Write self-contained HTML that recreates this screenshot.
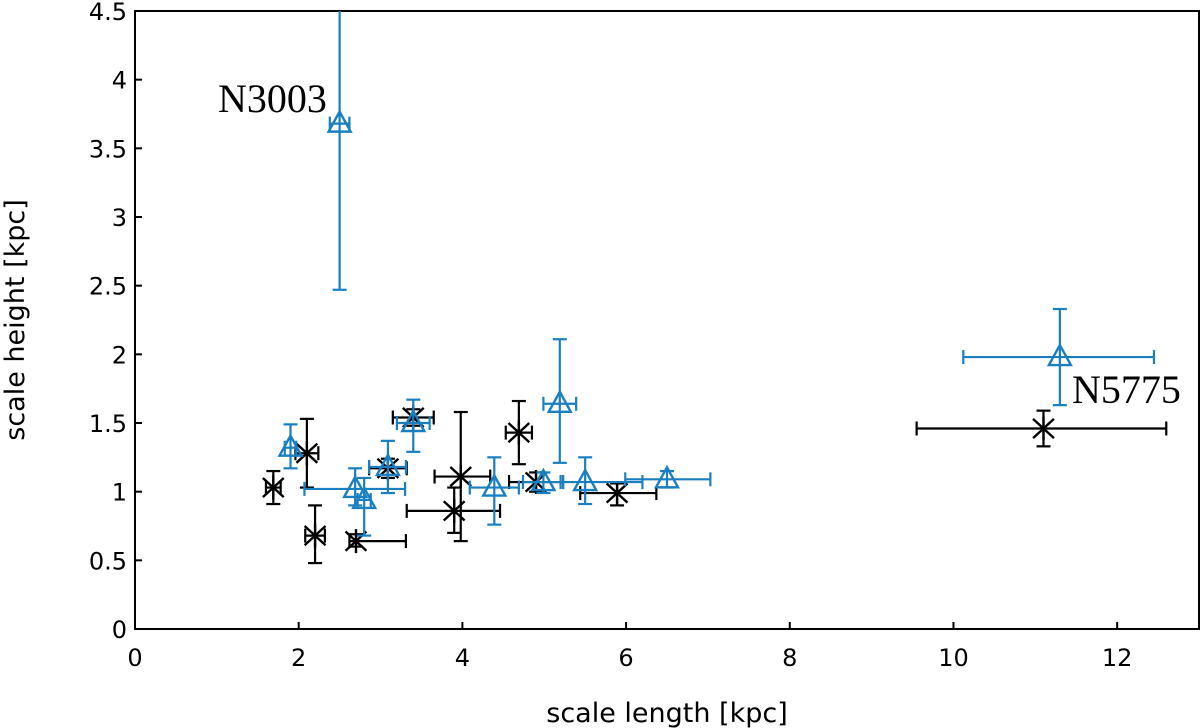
<!DOCTYPE html>
<html><head><meta charset="utf-8"><style>
html,body{margin:0;padding:0;background:#fff;}
svg{display:block;}
text{font-family:"DejaVu Sans","Liberation Sans",sans-serif;}
</style></head><body>
<svg id="chart" width="1200" height="728" viewBox="0 0 1200 728" xmlns="http://www.w3.org/2000/svg">
<g id="axes"></g>
<g id="marks"></g>
<text x="218" y="112" font-size="40" style="font-family:'Liberation Serif',serif">N3003</text>
<text x="1072" y="403" font-size="40" style="font-family:'Liberation Serif',serif">N5775</text>
<text x="667" y="722" font-size="27" text-anchor="middle">scale length [kpc]</text>
<text transform="translate(24,320) rotate(-90)" font-size="27" text-anchor="middle">scale height [kpc]</text>
</svg>
<script>
const xTicks=[0,2,4,6,8,10,12];
const yTicks=[0,0.5,1,1.5,2,2.5,3,3.5,4,4.5];
const yTickLabels=["0","0.5","1","1.5","2","2.5","3","3.5","4","4.5"];
// black asterisk series
const bX=[1.69,2.10,2.20,2.70,3.09,3.40,3.98,3.90,4.69,4.90,5.89,11.10];
const bY=[1.03,1.28,0.68,0.64,1.17,1.54,1.11,0.86,1.43,1.07,0.99,1.46];
const bXlo=[1.60,1.96,2.08,2.62,2.86,3.15,3.66,3.32,4.53,4.57,5.44,9.55];
const bXhi=[1.78,2.24,2.32,3.31,3.32,3.65,4.34,4.46,4.85,5.23,6.37,12.60];
const bYlo=[0.91,1.03,0.48,0.60,1.10,1.48,0.64,0.70,1.20,1.00,0.90,1.33];
const bYhi=[1.15,1.53,0.90,0.69,1.24,1.60,1.58,1.03,1.66,1.14,1.06,1.59];
// blue triangle series
const tX=[1.90,2.69,2.80,3.09,3.40,4.39,4.99,5.19,5.50,6.50,2.50,11.30];
const tY=[1.32,1.02,0.94,1.18,1.50,1.03,1.07,1.64,1.07,1.09,3.68,1.98];
const tXlo=[1.83,2.07,2.72,2.86,3.20,4.09,4.74,4.99,5.20,5.99,2.38,10.12];
const tXhi=[1.97,3.30,2.88,3.31,3.60,4.69,5.23,5.39,6.20,7.03,2.62,12.45];
const tYlo=[1.17,0.90,0.68,0.99,1.29,0.76,0.99,1.21,0.91,1.03,2.47,1.63];
const tYhi=[1.49,1.17,1.10,1.37,1.67,1.25,1.14,2.11,1.25,1.15,4.50,2.33];

const L=135,R=1199,T=11,B=629,XMAX=13,YMAX=4.5;
const sx=v=>L+(R-L)*v/XMAX;
const sy=v=>B-(B-T)*v/YMAX;
const NS="http://www.w3.org/2000/svg";
function mk(tag,attrs,parent){const e=document.createElementNS(NS,tag);for(const k in attrs)e.setAttribute(k,attrs[k]);parent.appendChild(e);return e;}
const axes=document.getElementById('axes');
const marks=document.getElementById('marks');
const frame=mk('rect',{x:L,y:T,width:R-L,height:B-T,fill:'none',stroke:'#000','stroke-width':2},axes);


xTicks.forEach(v=>{
  const t=mk('line',{x1:sx(v),x2:sx(v),y1:B,y2:B-7,stroke:'#000','stroke-width':2},axes);
  
  
  const l=mk('text',{x:sx(v),y:B+37,'font-size':24,'text-anchor':'middle'},axes);
  l.textContent=String(v);
  
  
});
yTicks.forEach((v,i)=>{
  const t=mk('line',{x1:L,x2:L+7,y1:sy(v),y2:sy(v),stroke:'#000','stroke-width':2},axes);
  
  
  const l=mk('text',{x:L-8,y:sy(v)+9,'font-size':24,'text-anchor':'end'},axes);
  l.textContent=yTickLabels[i];
  
  
});
function errbars(g,x,y,xlo,xhi,ylo,yhi,col){
  const a={stroke:col,'stroke-width':2.2,fill:'none'};
  const c=7;
  mk('line',Object.assign({x1:sx(xlo),x2:sx(xhi),y1:sy(y),y2:sy(y)},a),g);
  mk('line',Object.assign({x1:sx(xlo),x2:sx(xlo),y1:sy(y)-c,y2:sy(y)+c},a),g);
  mk('line',Object.assign({x1:sx(xhi),x2:sx(xhi),y1:sy(y)-c,y2:sy(y)+c},a),g);
  mk('line',Object.assign({x1:sx(x),x2:sx(x),y1:sy(ylo),y2:sy(yhi)},a),g);
  mk('line',Object.assign({x1:sx(x)-c,x2:sx(x)+c,y1:sy(ylo),y2:sy(ylo)},a),g);
  if(yhi<YMAX) mk('line',Object.assign({x1:sx(x)-c,x2:sx(x)+c,y1:sy(yhi),y2:sy(yhi)},a),g);
}
bX.forEach((x,i)=>{
  const g=mk('g',{},marks);
  
  
  errbars(g,x,bY[i],bXlo[i],bXhi[i],bYlo[i],bYhi[i],'#000');
  const cx=sx(x),cy=sy(bY[i]),r=12;
  const a={stroke:'#000','stroke-width':2.4};
  mk('line',Object.assign({x1:cx,x2:cx,y1:cy-r,y2:cy+r},a),g);
  mk('line',Object.assign({x1:cx-r*0.87,x2:cx+r*0.87,y1:cy-r*0.8,y2:cy+r*0.8},a),g);
  mk('line',Object.assign({x1:cx-r*0.87,x2:cx+r*0.87,y1:cy+r*0.8,y2:cy-r*0.8},a),g);
});
tX.forEach((x,i)=>{
  const g=mk('g',{},marks);
  
  
  const col='#1a7fc1';
  errbars(g,x,tY[i],tXlo[i],tXhi[i],tYlo[i],tYhi[i],col);
  const cx=sx(x),cy=sy(tY[i]);
  mk('polygon',{points:`${cx},${cy-12} ${cx-11},${cy+8} ${cx+11},${cy+8}`,fill:'none',stroke:col,'stroke-width':2.4},g);
});
</script>
</body></html>
